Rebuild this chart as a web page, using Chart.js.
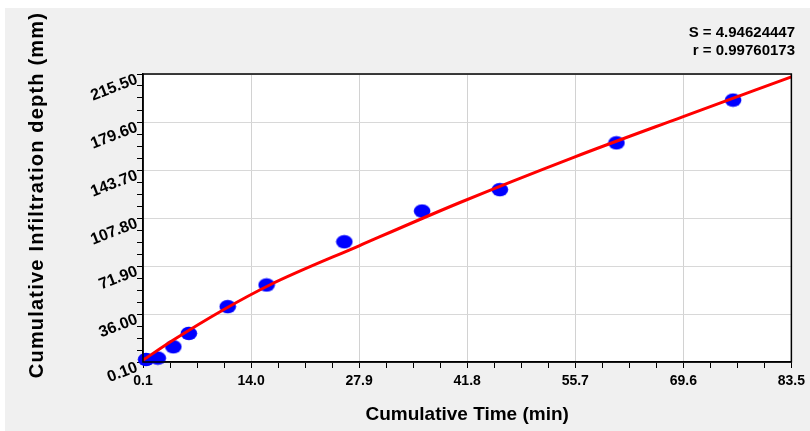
<!DOCTYPE html>
<html>
<head>
<meta charset="utf-8">
<script src="https://cdn.jsdelivr.net/npm/chart.js@4.4.0/dist/chart.umd.min.js"></script>
<style>
  html, body { margin: 0; padding: 0; background: #fff; }
  #wrap { width: 810px; height: 431px; }
</style>
</head>
<body>
<div id="wrap"><canvas id="infil" width="810" height="431"></canvas></div>
<script>
// observed points
const obsTime  = [0.5, 2, 4, 6, 11, 16, 26, 36, 46, 61, 76];
const obsDepth = [2, 3, 11.5, 21.5, 41.5, 57.7, 90, 113, 129, 164, 196];

// fitted curve
const fitTime  = [0.1, 4, 10.4, 16.4, 27.9, 40.8, 55.5, 69.5, 83.5];
const fitDepth = [1.5, 16.5, 39, 57.7, 87, 119.2, 153.2, 183.5, 213.4];

// axis ticks
const xTicks = [0.1, 14.0, 27.9, 41.8, 55.7, 69.6, 83.5];
const yTicks = [0.10, 36.00, 71.90, 107.80, 143.70, 179.60, 215.50];
const statLines = ["S = 4.94624447", "r = 0.99760173"];

const FONT = "'Liberation Sans', Arial, sans-serif";

// major marks plus (n-1) minor marks between each pair
function withMinor(major, n) {
    const out = [];
    for (let i = 0; i < major.length; i++) {
        out.push({ value: major[i], major: true });
        if (i < major.length - 1) {
            const step = (major[i + 1] - major[i]) / n;
            for (let k = 1; k < n; k++) out.push({ value: major[i] + step * k, major: false });
        }
    }
    return out;
}
const isMajor = (list, v) => list.some(m => Math.abs(m - v) < 1e-6);

// blue ellipse marker
const dot = document.createElement('canvas');
dot.width = 18; dot.height = 15;
const dg = dot.getContext('2d');
dg.fillStyle = '#0000ff';
dg.beginPath();
dg.ellipse(9, 7.5, 8.3, 6.8, 0, 0, Math.PI * 2);
dg.fill();

const decor = {
    id: 'decor',
    beforeDraw(chart) {
        const { ctx, chartArea: a } = chart;
        ctx.save();
        ctx.fillStyle = '#ffffff';
        ctx.fillRect(0, 0, chart.width, chart.height);
        ctx.fillStyle = '#f0f0f0';
        ctx.fillRect(5, 8, chart.width - 5, chart.height - 8);
        ctx.fillStyle = '#ffffff';
        ctx.fillRect(a.left, a.top, a.right - a.left, a.bottom - a.top);
        ctx.restore();
    },
    afterDraw(chart) {
        const { ctx, chartArea: a } = chart;
        const ys = chart.scales.y;
        ctx.save();
        // frame
        ctx.strokeStyle = '#000';
        ctx.lineWidth = 1.5;
        ctx.strokeRect(a.left, a.top, a.right - a.left, a.bottom - a.top);

        // rotated y tick labels
        ctx.fillStyle = '#000';
        ctx.font = 'bold 16px ' + FONT;
        ctx.textAlign = 'right';
        ctx.textBaseline = 'middle';
        yTicks.forEach(v => {
            const py = ys.getPixelForValue(v);
            ctx.save();
            ctx.translate(a.left - 6, py + 5);
            ctx.rotate(-21 * Math.PI / 180);
            ctx.fillText(v.toFixed(2), 0, 0);
            ctx.restore();
        });

        // axis titles
        ctx.font = 'bold 19px ' + FONT;
        ctx.textAlign = 'center';
        ctx.fillText('Cumulative Time (min)', (a.left + a.right) / 2, 415);
        ctx.save();
        ctx.translate(37, 195);
        ctx.rotate(-Math.PI / 2);
        ctx.font = 'bold 20px ' + FONT;
        ctx.letterSpacing = '1.2px';
        ctx.fillText('Cumulative Infiltration depth (mm)', 0, 0);
        ctx.restore();

        // stats
        ctx.font = 'bold 15px ' + FONT;
        ctx.textAlign = 'right';
        ctx.fillText(statLines[0], 795, 33);
        ctx.fillText(statLines[1], 795, 51);
        ctx.restore();
    }
};

new Chart(document.getElementById('infil'), {
    type: 'line',
    data: {
        datasets: [
            {
                label: 'fit',
                data: fitTime.map((t, i) => ({ x: t, y: fitDepth[i] })),
                borderColor: '#ff0000',
                borderWidth: 3,
                pointRadius: 0,
                cubicInterpolationMode: 'monotone',
                fill: false,
                order: 0
            },
            {
                label: 'observed',
                data: obsTime.map((t, i) => ({ x: t, y: obsDepth[i] })),
                showLine: false,
                pointStyle: dot,
                pointRadius: 8,
                clip: false,
                order: 1
            }
        ]
    },
    options: {
        responsive: false,
        animation: false,
        layout: { padding: { left: 0, top: 74, right: 17, bottom: 0 } },
        plugins: {
            legend: { display: false },
            tooltip: { enabled: false }
        },
        scales: {
            x: {
                type: 'linear',
                min: 0.1,
                max: 83.5,
                afterBuildTicks: s => { s.ticks = withMinor(xTicks, 4); },
                afterFit: s => { s.height = 69; },
                border: { color: '#000', width: 1.5 },
                grid: {
                    color: c => isMajor(xTicks, c.tick.value) ? '#d2d2d2' : 'rgba(0,0,0,0)',
                    tickColor: '#000',
                    tickLength: 6
                },
                ticks: {
                    autoSkip: false,
                    maxRotation: 0,
                    padding: 5,
                    color: '#000',
                    font: { family: FONT, size: 14, weight: 'bold' },
                    callback: v => isMajor(xTicks, v) ? v.toFixed(1) : ''
                }
            },
            y: {
                type: 'linear',
                min: 0.1,
                max: 215.5,
                afterBuildTicks: s => { s.ticks = withMinor(yTicks, 4); },
                afterFit: s => { s.width = 143; },
                border: { color: '#000', width: 1.5 },
                grid: {
                    color: c => isMajor(yTicks, c.tick.value) ? '#d8d8d8' : 'rgba(0,0,0,0)',
                    tickColor: '#000',
                    tickLength: 6
                },
                ticks: { display: false }
            }
        }
    },
    plugins: [decor]
});
</script>
</body>
</html>
